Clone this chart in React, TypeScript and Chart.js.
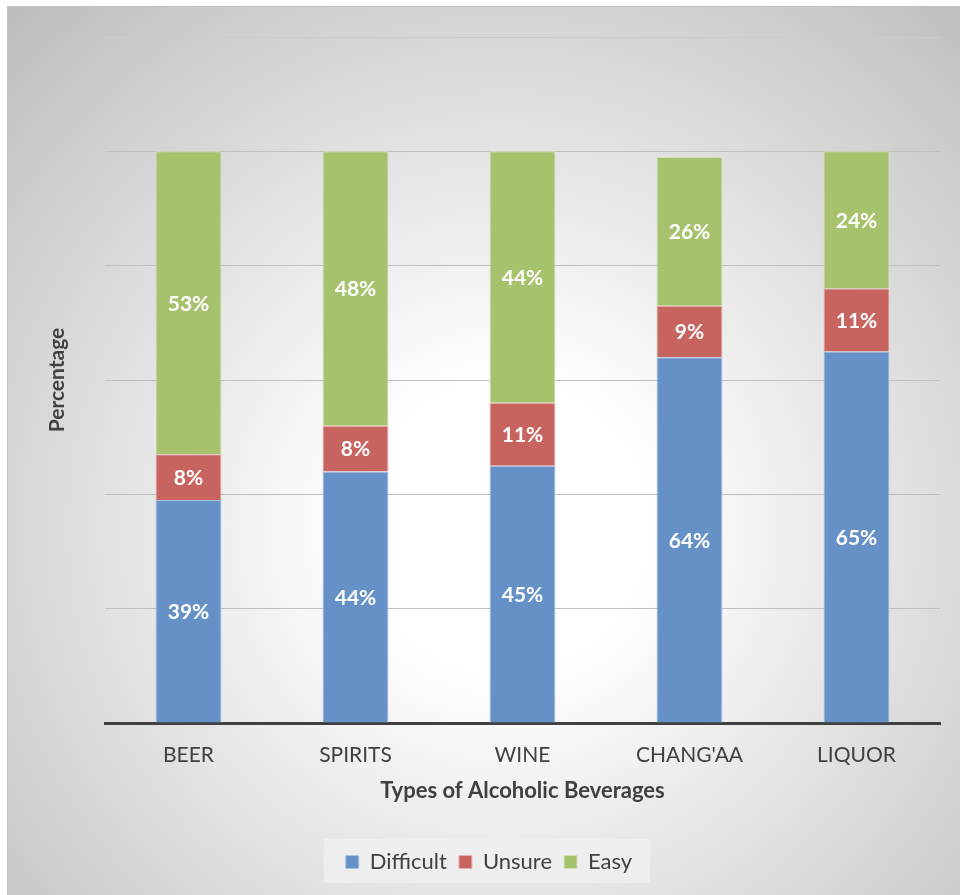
import React, { useEffect, useRef } from "react";
import { Chart, registerables } from "chart.js";

Chart.register(...registerables);

// Share of respondents by how they rate access to each beverage type
const categories = ["BEER", "SPIRITS", "WINE", "CHANG'AA", "LIQUOR"];
const difficult = [39, 44, 45, 64, 65];
const unsure = [8, 8, 11, 9, 11];
const easy = [53, 48, 44, 26, 24];
const seriesNames = ["Difficult", "Unsure", "Easy"];

const FONT = "Lato, 'Open Sans', 'DejaVu Sans', sans-serif";
const CANVAS_W = 952;
const CANVAS_H = 888;

// Soft radial backdrop plus the framed legend panel
const backdrop = {
  id: "backdrop",
  beforeDraw(chart: any) {
    const { ctx, width, height } = chart;
    ctx.save();
    const g = ctx.createRadialGradient(495, 520, 0, 495, 520, 720);
    g.addColorStop(0, "#ffffff");
    g.addColorStop(0.2, "#ffffff");
    g.addColorStop(1, "#bcbcbc");
    ctx.fillStyle = g;
    ctx.fillRect(0, 0, width, height);

    const legend = chart.legend;
    if (legend && legend.legendHitBoxes && legend.legendHitBoxes.length) {
      const boxes = legend.legendHitBoxes;
      const left = boxes[0].left - 22;
      const last = boxes[boxes.length - 1];
      const right = last.left + last.width + 18;
      ctx.fillStyle = "rgba(240,240,240,0.75)";
      ctx.fillRect(left, legend.top, right - left, 44);
    }
    ctx.restore();
  },
};

// White percentage labels centred in each stacked segment
const valueLabels = {
  id: "valueLabels",
  afterDatasetsDraw(chart: any) {
    const { ctx } = chart;
    ctx.save();
    ctx.font = `bold 21px ${FONT}`;
    ctx.fillStyle = "#ffffff";
    ctx.textAlign = "center";
    ctx.textBaseline = "middle";
    chart.data.datasets.forEach((ds: any, i: number) => {
      const meta = chart.getDatasetMeta(i);
      meta.data.forEach((bar: any, j: number) => {
        const { x, y, base } = bar.getProps(["x", "y", "base"], true);
        ctx.fillText(`${ds.data[j]}%`, x, (y + base) / 2 + 1);
      });
    });
    ctx.restore();
  },
};

export default function App() {
  const canvasRef = useRef<HTMLCanvasElement | null>(null);

  useEffect(() => {
    document.body.style.margin = "0";
    const canvas = canvasRef.current;
    if (!canvas) return;

    const chart = new Chart(canvas, {
      type: "bar",
      data: {
        labels: categories,
        datasets: [
          {
            label: seriesNames[0],
            data: difficult,
            backgroundColor: "#6691c6",
            borderColor: "#a9c2e2",
            borderWidth: 1,
          },
          {
            label: seriesNames[1],
            data: unsure,
            backgroundColor: "#c8645f",
            borderColor: "#e6b2af",
            borderWidth: 1,
          },
          {
            label: seriesNames[2],
            data: easy,
            backgroundColor: "#a6c26c",
            borderColor: "#d2e2b4",
            borderWidth: 1,
          },
        ],
      },
      options: {
        animation: false,
        responsive: false,
        devicePixelRatio: 1,
        layout: { padding: { top: 30, right: 20, bottom: 12, left: 30 } },
        datasets: {
          bar: { barPercentage: 0.395, categoryPercentage: 1 },
        },
        scales: {
          x: {
            stacked: true,
            grid: { display: false, drawTicks: false },
            border: { display: true, color: "#404040", width: 3 },
            ticks: {
              padding: 20,
              color: "#404040",
              font: { family: FONT, size: 21 },
            },
            title: {
              display: true,
              text: "Types of Alcoholic Beverages",
              color: "#404040",
              font: { family: FONT, size: 22, weight: "bold" },
              padding: { top: 0, bottom: 35 },
            },
            afterFit: (scale: any) => {
              scale.height = 116;
            },
          },
          y: {
            stacked: true,
            min: 0,
            max: 120,
            ticks: { display: false, stepSize: 20 },
            border: { display: false },
            grid: {
              drawTicks: false,
              lineWidth: 1,
              color: (c: any) =>
                c.tick && c.tick.value === 120 ? "#cbcbcb" : "#bfbfbf",
            },
            title: {
              display: true,
              text: "Percentage",
              color: "#404040",
              font: { family: FONT, size: 21, weight: "bold" },
              padding: { top: 7, bottom: 0 },
            },
            afterFit: (scale: any) => {
              scale.width = 67;
            },
          },
        },
        plugins: {
          legend: {
            position: "bottom",
            labels: {
              boxWidth: 13,
              boxHeight: 13,
              padding: 12,
              color: "#404040",
              font: { family: FONT, size: 22 },
            },
          },
          tooltip: { enabled: false },
        },
      },
      plugins: [backdrop, valueLabels],
    });

    return () => chart.destroy();
  }, []);

  return (
    <div
      style={{
        position: "fixed",
        left: 0,
        top: 0,
        width: 960,
        height: 895,
        overflow: "hidden",
        background: "#ffffff",
      }}
    >
      <div
        style={{
          position: "absolute",
          left: 7,
          top: 6,
          width: CANVAS_W + 2,
          height: CANVAS_H + 2,
          border: "1px solid #c2c2c2",
        }}
      >
        <canvas
          ref={canvasRef}
          width={CANVAS_W}
          height={CANVAS_H}
          style={{ display: "block", width: CANVAS_W, height: CANVAS_H }}
        />
      </div>
    </div>
  );
}
